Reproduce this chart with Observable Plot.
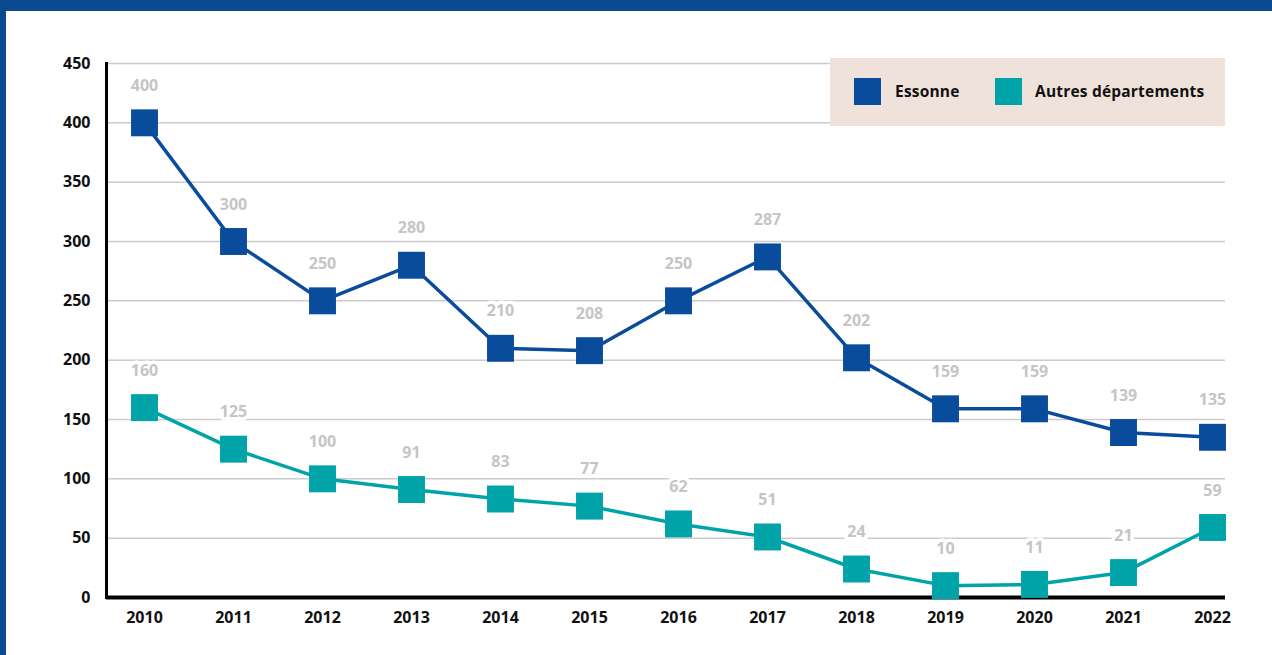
<!DOCTYPE html>
<html>
<head>
<meta charset="utf-8">
<script src="https://cdn.jsdelivr.net/npm/d3@7"></script>
<script src="https://cdn.jsdelivr.net/npm/@observablehq/plot@0.6"></script>
<style>
  html, body { margin: 0; padding: 0; background: #ffffff; }
  body { width: 1272px; height: 655px; position: relative; overflow: hidden; font-family: "Open Sans", sans-serif; }
  #topbar { position: absolute; left: 0; top: 0; width: 1272px; height: 11px; background: #0b4a8f; }
  #leftbar { position: absolute; left: 0; top: 0; width: 6px; height: 655px; background: #0b4a8f; }
  #chart { position: absolute; left: 0; top: 0; }
  #legend { position: absolute; left: 830px; top: 58px; width: 395px; height: 68px; background: #eee2da; }
  .sw { position: absolute; top: 20px; width: 27px; height: 27px; }
  .lt { position: absolute; top: 21px; font-weight: 700; font-size: 15.5px; color: #111; line-height: 24px; white-space: nowrap; letter-spacing: 0.2px; }
</style>
</head>
<body>
<div id="chart"></div>
<div id="topbar"></div>
<div id="leftbar"></div>
<div id="legend"></div>
<script>
const years = [2010, 2011, 2012, 2013, 2014, 2015, 2016, 2017, 2018, 2019, 2020, 2021, 2022];
const essonne = [400, 300, 250, 280, 210, 208, 250, 287, 202, 159, 159, 139, 135];
const autres = [160, 125, 100, 91, 83, 77, 62, 51, 24, 10, 11, 21, 59];
const seriesNames = ["Essonne", "Autres départements"];
const seriesColors = ["#0a4c9c", "#00a4a8"];
const yTicks = [0, 50, 100, 150, 200, 250, 300, 350, 400, 450];

const data = [
  ...years.map((y, i) => ({year: y, value: essonne[i], series: seriesNames[0]})),
  ...years.map((y, i) => ({year: y, value: autres[i], series: seriesNames[1]}))
];

const plot = Plot.plot({
  width: 1272,
  height: 655,
  marginTop: 63,
  marginBottom: 58,
  marginLeft: 106,
  marginRight: 47,
  style: {fontFamily: "'Open Sans', sans-serif", background: "transparent"},
  x: {type: "point", domain: years, padding: 0.2865, align: 0.745, label: null},
  y: {domain: [0, 450], label: null},
  color: {domain: seriesNames, range: seriesColors},
  marks: [
    Plot.ruleY(yTicks.filter(d => d > 0), {stroke: "#cccccc", strokeWidth: 1.5}),
    Plot.text(data, {x: "year", y: "value", text: d => String(d.value), dy: -37, fill: "#c5c5c5", fontSize: 16, fontWeight: 700, stroke: "white", strokeWidth: 7, letterSpacing: 0.5}),
    Plot.ruleY([0], {stroke: "#000", strokeWidth: 4}),
    Plot.frame({anchor: "left", stroke: "#000", strokeWidth: 3}),
    Plot.axisY({ticks: yTicks, tickSize: 0, tickPadding: 16, fontSize: 16, fontWeight: 700, fill: "#111", label: null}),
    Plot.axisX({tickSize: 0, tickPadding: 14, fontSize: 16, fontWeight: 700, fill: "#111", label: null, tickFormat: d => String(d)}),
    Plot.line(data, {x: "year", y: "value", z: "series", stroke: "series", strokeWidth: 3.5}),
    Plot.dot(data, {x: "year", y: "value", fill: "series", symbol: "square", r: 15.2})
  ]
});
document.getElementById("chart").appendChild(plot);

const legend = document.getElementById("legend");
const swX = [24, 165];
const txX = [65, 205];
seriesNames.forEach((name, i) => {
  const sw = document.createElement("div");
  sw.className = "sw";
  sw.style.left = swX[i] + "px";
  sw.style.background = seriesColors[i];
  legend.appendChild(sw);
  const t = document.createElement("div");
  t.className = "lt";
  t.style.left = txX[i] + "px";
  t.textContent = name;
  legend.appendChild(t);
});
</script>
</body>
</html>
